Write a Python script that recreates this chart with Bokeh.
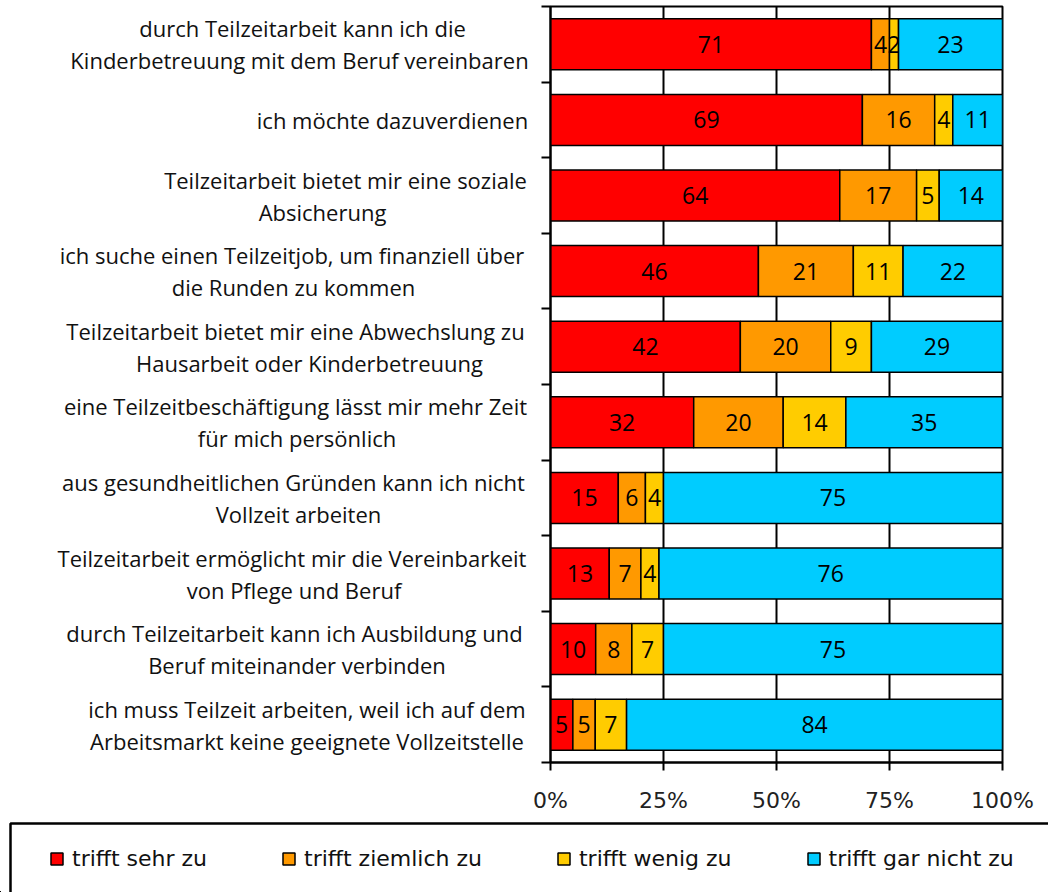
from bokeh.plotting import figure
from bokeh.layouts import column, row
from bokeh.models import (Range1d, FixedTicker, Legend, LegendItem, PolyAnnotation,
                          ColumnDataSource)
from bokeh.core.properties import value
from bokeh.embed import file_html
from bokeh.resources import INLINE

# ---------------- data ----------------
categories = [
    ["durch Teilzeitarbeit kann ich die", "Kinderbetreuung mit dem Beruf vereinbaren"],
    ["ich möchte dazuverdienen"],
    ["Teilzeitarbeit bietet mir eine soziale", "Absicherung"],
    ["ich suche einen Teilzeitjob, um finanziell über", "die Runden zu kommen"],
    ["Teilzeitarbeit bietet mir eine Abwechslung zu", "Hausarbeit oder Kinderbetreuung"],
    ["eine Teilzeitbeschäftigung lässt mir mehr Zeit", "für mich persönlich"],
    ["aus gesundheitlichen Gründen kann ich nicht", "Vollzeit arbeiten"],
    ["Teilzeitarbeit ermöglicht mir die Vereinbarkeit", "von Pflege und Beruf"],
    ["durch Teilzeitarbeit kann ich Ausbildung und", "Beruf miteinander verbinden"],
    ["ich muss Teilzeit arbeiten, weil ich auf dem", "Arbeitsmarkt keine geeignete Vollzeitstelle"],
]
series_names = ["trifft sehr zu", "trifft ziemlich zu", "trifft wenig zu", "trifft gar nicht zu"]
sehr_zu = [71, 69, 64, 46, 42, 32, 15, 13, 10, 5]
ziemlich_zu = [4, 16, 17, 21, 20, 20, 6, 7, 8, 5]
wenig_zu = [2, 4, 5, 11, 9, 14, 4, 4, 7, 7]
gar_nicht_zu = [23, 11, 14, 22, 29, 35, 75, 76, 75, 84]
x_ticks = [0, 25, 50, 75, 100]
x_tick_labels = ["0%", "25%", "50%", "75%", "100%"]

# ---------------- styles / layout ----------------
colors = ["#FF0000", "#FF9900", "#FFCC00", "#00CCFF"]
W, H = 1048, 892
LABEL_W = 530            # width of the label column
TOP_H = 816              # height of chart row
FRAME_L, FRAME_R, FRAME_T, FRAME_B = 550, 1002, 6, 762
BOX_L, BOX_T = 10, 823   # legend box top-left corner (px)
# per-line horizontal centres of the category labels (px)
label_centers = [
    [302, 299], [392], [345, 322], [291.5, 293], [295, 309],
    [295, 296.5], [293, 298], [291.5, 293.5], [294, 296.5], [306.5, 306.5],
]
LINE_OFF = 16

series = [sehr_zu, ziemlich_zu, wenig_zu, gar_nicht_zu]
n = len(categories)
totals = [sum(s[i] for s in series) for i in range(n)]
ys = [n - i - 0.5 for i in range(n)]
y_range = Range1d(0, n)

# ---------------- main chart ----------------
p = figure(width=W - LABEL_W, height=TOP_H, output_backend="svg", toolbar_location=None,
           x_range=Range1d(0, 100), y_range=y_range,
           min_border_left=FRAME_L - LABEL_W, min_border_right=W - FRAME_R,
           min_border_top=FRAME_T, min_border_bottom=TOP_H - FRAME_B)
p.background_fill_color = "white"
p.border_fill_color = "white"
p.outline_line_color = "black"
p.outline_line_width = 2

sources = []
cum = [0.0] * n
for k, s in enumerate(series):
    left = list(cum)
    right = [cum[i] + 100.0 * s[i] / totals[i] for i in range(n)]
    src = ColumnDataSource(dict(y=ys, left=left, right=right,
                                mid=[(a + b) / 2 for a, b in zip(left, right)],
                                txt=[str(v) for v in s]))
    sources.append(src)
    p.hbar(y="y", left="left", right="right", height=0.675, source=src,
           fill_color=colors[k], line_color="black", line_width=1.5)
    p.text(x="mid", y="y", text="txt", source=src, text_align="center",
           text_baseline="middle", text_font=value("Open Sans"),
           text_font_size="23px", text_color="black")
    cum = right

p.xaxis.ticker = FixedTicker(ticks=x_ticks)
p.xaxis.major_label_overrides = {t: l for t, l in zip(x_ticks, x_tick_labels)}
p.xaxis.major_label_text_font = "DejaVu Sans"
p.xaxis.major_label_text_font_size = "22px"
p.xaxis.major_label_text_color = "#222222"
p.xaxis.major_label_standoff = 17
p.xaxis.axis_line_color = "black"
p.xaxis.axis_line_width = 2
p.xaxis.major_tick_line_color = "black"
p.xaxis.major_tick_line_width = 2
p.xaxis.major_tick_out = 8
p.xaxis.major_tick_in = 0
p.xaxis.minor_tick_line_color = None

y_ticks = list(range(n + 1))
p.yaxis.ticker = FixedTicker(ticks=y_ticks)
p.yaxis.major_label_overrides = {t: "" for t in y_ticks}
p.yaxis.major_label_standoff = 0
p.yaxis.axis_line_color = "black"
p.yaxis.axis_line_width = 2
p.yaxis.major_tick_line_color = "black"
p.yaxis.major_tick_line_width = 2
p.yaxis.major_tick_out = 9
p.yaxis.major_tick_in = 0
p.yaxis.minor_tick_line_color = None

p.xgrid.grid_line_color = "black"
p.xgrid.grid_line_width = 2
p.ygrid.grid_line_color = None

# ---------------- category labels ----------------
lab = figure(width=LABEL_W, height=TOP_H, output_backend="svg", toolbar_location=None,
             x_range=Range1d(0, LABEL_W), y_range=y_range,
             x_axis_type=None, y_axis_type=None,
             min_border_left=0, min_border_right=0,
             min_border_top=FRAME_T, min_border_bottom=TOP_H - FRAME_B)
lab.outline_line_color = None
lab.grid.visible = False
lx, ly, lt, lo = [], [], [], []
for i, lines in enumerate(categories):
    m = len(lines)
    for j, line in enumerate(lines):
        lx.append(label_centers[i][j])
        ly.append(ys[i])
        lt.append(line)
        lo.append(0 if m == 1 else (-LINE_OFF if j == 0 else LINE_OFF))
lab.text(x="x", y="y", text="t", y_offset="o",
         source=ColumnDataSource(dict(x=lx, y=ly, t=lt, o=lo)),
         text_align="center", text_baseline="middle",
         text_font=value("Open Sans"), text_font_size="22px", text_color="#111111")

# ---------------- legend ----------------
LEG_H = H - TOP_H
lg = figure(width=W, height=LEG_H, output_backend="svg", toolbar_location=None,
            x_range=Range1d(0, W), y_range=Range1d(H, TOP_H),
            x_axis_type=None, y_axis_type=None,
            min_border_left=0, min_border_right=0, min_border_top=0, min_border_bottom=0)
lg.outline_line_color = None
lg.grid.visible = False
# the same series drawn here only to feed the legend swatches, on ranges that
# keep them outside this panel
lg.extra_x_ranges = {"swatch": Range1d(5000, 5100)}
lg.extra_y_ranges = {"swatch": Range1d(5000, 5100)}
leg_renderers = []
for k, src in enumerate(sources):
    leg_renderers.append(lg.hbar(y="y", left="left", right="right", height=0.675,
                                 source=src, fill_color=colors[k],
                                 line_color="black", line_width=1.5,
                                 x_range_name="swatch", y_range_name="swatch"))
legend = Legend(items=[LegendItem(label=nm, renderers=[r]) for nm, r in zip(series_names, leg_renderers)],
                orientation="horizontal", location=(49, 21),
                padding=0, margin=0, spacing=74, glyph_width=15, glyph_height=15,
                label_standoff=8, label_text_font="DejaVu Sans",
                label_text_font_size="22px", label_text_color="#111111",
                border_line_alpha=0, background_fill_alpha=0)
lg.add_layout(legend)
lg.add_layout(PolyAnnotation(xs=[BOX_L, BOX_L, W + 60, W + 60], ys=[H + 60, BOX_T, BOX_T, H + 60],
                             fill_alpha=0, line_color="black", line_alpha=1, line_width=2.5))

layout = column(row(lab, p), lg)
open("out.html", "w").write(file_html(layout, INLINE))
